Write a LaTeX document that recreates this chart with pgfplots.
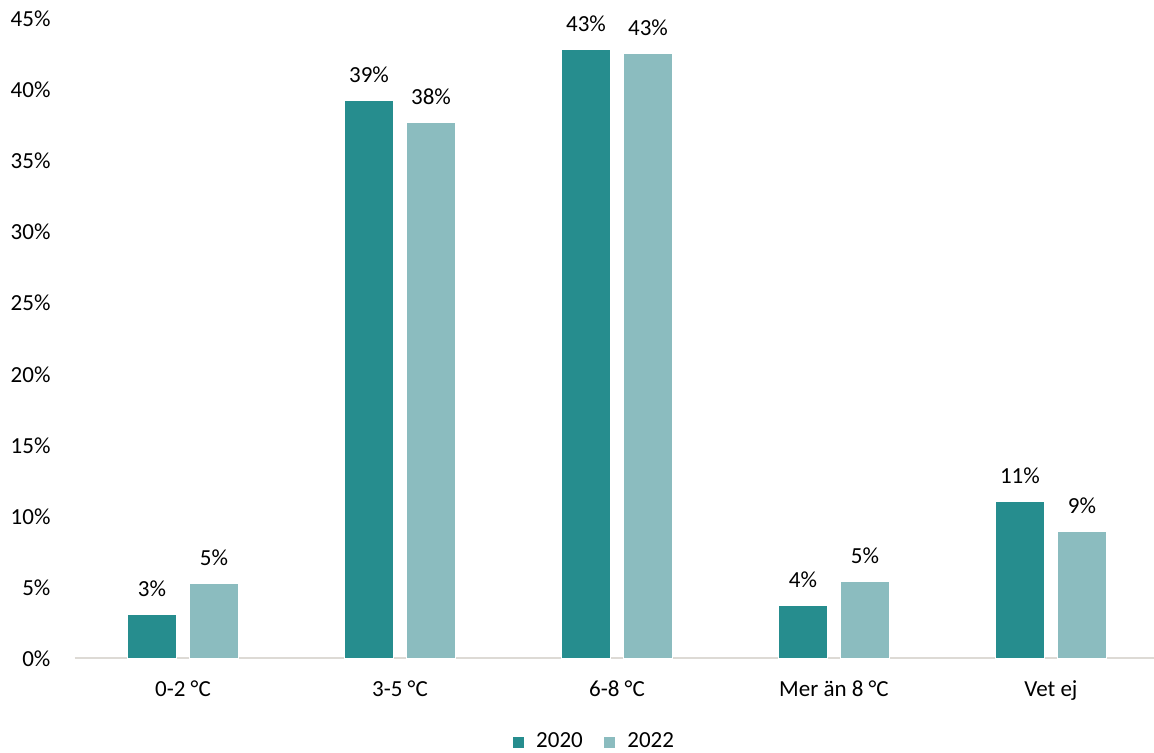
\documentclass[border=0pt]{standalone}
\usepackage{fontspec}
\setmainfont{Carlito}
\usepackage{pgfplots}
\pgfplotsset{compat=1.18}

\definecolor{teal20}{HTML}{268D8E}
\definecolor{teal22}{HTML}{8BBCBF}
\definecolor{axisgrey}{HTML}{DDDAD5}

\newcommand{\chartfont}{\fontsize{11.5pt}{13.5pt}\selectfont}

\begin{document}
\chartfont
\begin{tikzpicture}
\path[use as bounding box] (0,0) rectangle (577pt,376.5pt);
\begin{axis}[
  at={(37.25pt,47.25pt)}, anchor=south west,
  scale only axis,
  width=539.75pt, height=319.75pt,
  ybar, bar width=24.4pt,
  xmin=-0.5, xmax=4.475,
  ymin=0, ymax=45,
  xtick={0,1,2,3,4},
  xticklabels={0-2 °C, 3-5 °C, 6-8 °C, Mer än 8 °C, Vet ej},
  ytick={0,5,...,45},
  yticklabel={\pgfmathprintnumber{\tick}\%},
  /pgf/number format/assume math mode=true,
  axis x line*=bottom,
  axis y line*=left,
  x axis line style={draw=axisgrey, line width=1pt, -},
  y axis line style={draw=none},
  major tick length=0pt,
  xticklabel style={font=\chartfont, yshift=-7pt},
  yticklabel style={font=\chartfont, anchor=east, xshift=-8pt},
  point meta=y,
  nodes near coords={\pgfmathprintnumber[fixed,precision=0]{\pgfplotspointmeta}\%},
  nodes near coords style={anchor=base, yshift=9pt, inner sep=0pt,
    font=\chartfont, /pgf/number format/assume math mode=true},
  legend style={at={(0.482,-0.1306)}, anchor=center, draw=none,
    font=\chartfont, column sep=4pt,
    /tikz/every even column/.append style={column sep=8pt}},
  legend columns=2,
  legend image code/.code={\fill[#1] (0pt,-3pt) rectangle (6pt,3pt);},
  clip=false,
]
\addplot[fill=teal20, draw=white, line width=0.3pt, bar shift=-15.5pt]
  coordinates {(0,3.1) (1,39.3) (2,42.87) (3,3.74) (4,11.03)};
\addplot[fill=teal22, draw=white, line width=0.3pt, bar shift=15.5pt]
  coordinates {(0,5.3) (1,37.73) (2,42.59) (3,5.45) (4,8.92)};
\legend{2020,2022}
\end{axis}
\end{tikzpicture}
\end{document}
